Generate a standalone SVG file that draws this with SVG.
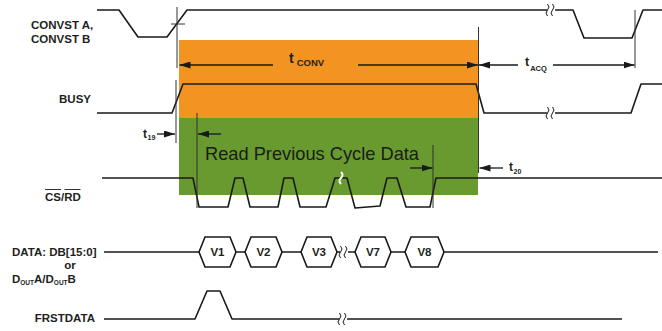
<svg xmlns="http://www.w3.org/2000/svg" width="662" height="331" viewBox="0 0 662 331">
<style>
.sig{fill:none;stroke:#1a1a1a;stroke-width:1.6;stroke-linejoin:round}
.ref{fill:none;stroke:#333;stroke-width:1}
.lbl{font-family:"Liberation Sans",Arial,sans-serif;font-weight:bold;font-size:11.5px;fill:#231f20}
.tm{font-family:"Liberation Sans",Arial,sans-serif;font-weight:bold;fill:#231f20}
.arr{fill:none;stroke:#1a1a1a;stroke-width:1.3}
.hex{fill:#fff;stroke:#1a1a1a;stroke-width:1.6}
.brk{fill:none;stroke:#1a1a1a;stroke-width:1}
</style>
<defs>
<marker id="ah" markerUnits="userSpaceOnUse" markerWidth="11" markerHeight="7" refX="11" refY="3.5" orient="auto"><path d="M0,0 L11,3.5 L0,7z" fill="#1a1a1a"/></marker>
<g id="bk"><rect x="-4" y="-5" width="8" height="10" fill="#fff"/><path class="brk" d="M-3.5,-6 q3,3 0,6 q-3,3 0,6 M1.5,-6 q3,3 0,6 q-3,3 0,6"/></g>
</defs>
<rect width="662" height="331" fill="#fff"/>
<g id="phases">
<rect x="179" y="40" width="299" height="78" fill="#f39422"/>
<rect x="179" y="118" width="299" height="77" fill="#689a30"/>
<text x="205" y="160" font-family="'Liberation Sans',Arial,sans-serif" font-size="19" textLength="214" lengthAdjust="spacingAndGlyphs" fill="#1a1a1a">Read Previous Cycle Data</text>
</g>
<g id="convst">
<text class="lbl" x="31" y="29">CONVST A,</text>
<text class="lbl" x="31" y="43">CONVST B</text>
<path class="sig" d="M97,10 L119,10 L138,37 L167,37 L187,10 L573,10 L584,38 L632,38 L643,10 L662,10"/>
<use href="#bk" x="551" y="10"/>
</g>
<g id="busy">
<text class="lbl" x="91" y="103" text-anchor="end">BUSY</text>
<path class="sig" d="M97,113 L172,113 L183,84 L476,84 L484,113 L631,113 L641,84 L662,84"/>
<use href="#bk" x="551" y="113"/>
</g>
<g id="csrd">
<text class="lbl" x="45" y="201">CS/RD</text>
<path class="ref" d="M45,189.5 H61 M64.5,189.5 H80.5"/>
<path class="sig" d="M102,178 L193,178 L199,207 L228,207 L235,178 L243,178 L250,207 L278,207 L284,178 L293,178 L300,207 L326,207 L335,178 L347,178 L355,208 L380,206 L387,178 L397,178 L406,207 L430,207 L436,178 L662,178"/>
<path d="M341,172 q3,3 0,6 q-3,3 0,6" fill="none" stroke="#fff" stroke-width="2"/>
</g>
<g id="data">
<text class="lbl" x="12" y="256">DATA: DB[15:0]</text>
<text class="lbl" x="70" y="269" text-anchor="middle">or</text>
<text class="lbl" x="12" y="283">D<tspan font-size="6.5" dy="2">OUT</tspan><tspan dy="-2">A/D</tspan><tspan font-size="6.5" dy="2">OUT</tspan><tspan dy="-2">B</tspan></text>
<path class="sig" d="M104,252 H199 M236,252 H245 M282,252 H301 M337,252 H355 M391,252 H405 M444,252 H658"/>
<use href="#bk" x="344" y="252"/>
</g>
<g id="v1"><path class="hex" d="M199,252 L205,237 L230,237 L236,252 L230,267 L205,267Z"/><text class="lbl" x="217.5" y="256" text-anchor="middle">V1</text></g>
<g id="v2"><path class="hex" d="M245,252 L251,237 L276,237 L282,252 L276,267 L251,267Z"/><text class="lbl" x="263.5" y="256" text-anchor="middle">V2</text></g>
<g id="v3"><path class="hex" d="M301,252 L307,237 L331,237 L337,252 L331,267 L307,267Z"/><text class="lbl" x="319" y="256" text-anchor="middle">V3</text></g>
<g id="v7"><path class="hex" d="M355,252 L361,237 L385,237 L391,252 L385,267 L361,267Z"/><text class="lbl" x="373" y="256" text-anchor="middle">V7</text></g>
<g id="v8"><path class="hex" d="M405,252 L411,237 L438,237 L444,252 L438,267 L411,267Z"/><text class="lbl" x="424.5" y="256" text-anchor="middle">V8</text></g>
<g id="frstdata">
<text class="lbl" x="95" y="322" text-anchor="end">FRSTDATA</text>
<path class="sig" d="M104,319 L195,319 L207,291 L220,291 L232,319 L622,319"/>
<use href="#bk" x="343" y="319"/>
</g>
<g id="connectors">
<path class="ref" d="M177,7 V68 M171,24 H185 M176,80 V143 M197,113 V208 M433,145 V208 M478.5,27 V173 M635,10 V68"/>
<path class="arr" marker-end="url(#ah)" d="M273,65 H179.5"/>
<path class="arr" marker-end="url(#ah)" d="M358,65 H478"/>
<path class="arr" marker-end="url(#ah)" d="M518,65 H479"/>
<path class="arr" marker-end="url(#ah)" d="M553,65 H634.5"/>
<path class="arr" marker-end="url(#ah)" d="M157,134 H175"/>
<path class="arr" marker-end="url(#ah)" d="M221,134 H198"/>
<path class="arr" marker-end="url(#ah)" d="M410,168 H432.5"/>
<path class="arr" marker-end="url(#ah)" d="M503,168 H479.5"/>
<text class="tm" x="289" y="63" font-size="14">t<tspan font-size="9.5" dx="3" dy="3">CONV</tspan></text>
<text class="tm" x="525" y="66" font-size="12.5">t<tspan font-size="7.5" dx="1" dy="4.5">ACQ</tspan></text>
<text class="tm" x="143" y="138" font-size="12">t<tspan font-size="7" dx="0.5" dy="2">19</tspan></text>
<text class="tm" x="509" y="171" font-size="12">t<tspan font-size="7" dx="0.5" dy="3">20</tspan></text>
</g>
</svg>
